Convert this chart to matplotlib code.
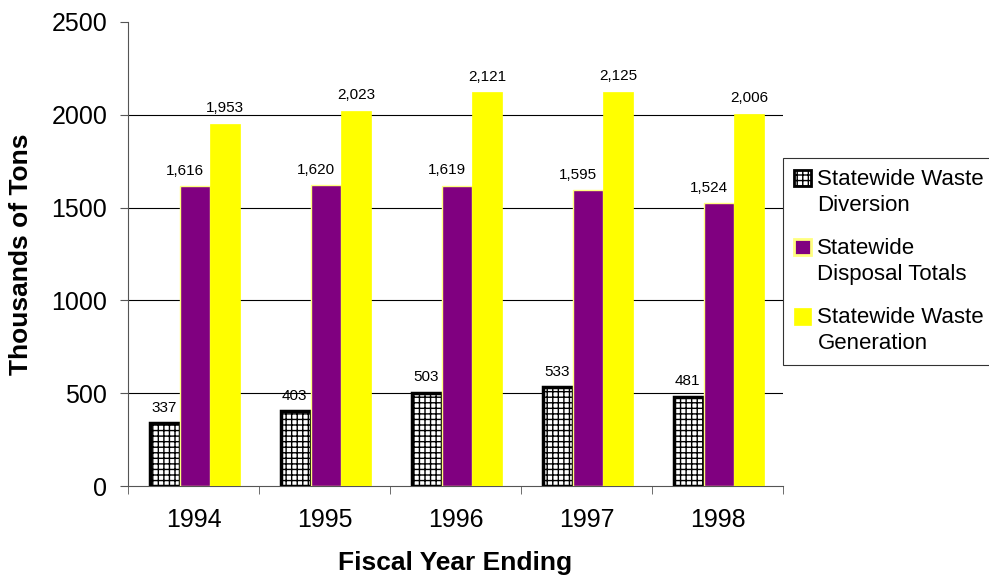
import matplotlib
matplotlib.use("Agg")
import matplotlib.pyplot as plt
from matplotlib.patches import Rectangle
from matplotlib.legend_handler import HandlerPatch
import numpy as np

plt.rcParams['font.family'] = ['Liberation Sans', 'DejaVu Sans']
plt.rcParams['hatch.linewidth'] = 1.0

years = ['1994', '1995', '1996', '1997', '1998']
diversion = [337, 403, 503, 533, 481]
disposal = [1616, 1620, 1619, 1595, 1524]
generation = [1953, 2023, 2121, 2125, 2006]
series_names = ['Statewide Waste\nDiversion', 'Statewide\nDisposal Totals', 'Statewide Waste\nGeneration']

fig = plt.figure(figsize=(9.89, 5.75), dpi=100)
ax = fig.add_axes([128/989, 1-486/575, (783-128)/989, (486-22)/575])

x = np.arange(len(years)) + 0.012
w = 0.229
b1 = ax.bar(x - w, diversion, w, color='white', edgecolor='black', hatch='+++', linewidth=2.5, zorder=3)
b2 = ax.bar(x, disposal, w, color='#800080', edgecolor='#FFFF80', linewidth=1.0, zorder=3)
b3 = ax.bar(x + w, generation, w, color='#FFFF00', edgecolor='#FFFF00', linewidth=0.5, zorder=3)

offsets = (-0.01, -0.08, 0.0)
for bars, vals, dx in ((b1, diversion, offsets[0]), (b2, disposal, offsets[1]), (b3, generation, offsets[2])):
    for r, v in zip(bars, vals):
        ax.text(r.get_x() + r.get_width()/2 + dx, v + 45, f"{v:,}", ha='center', va='bottom', fontsize=11)

ax.set_xlim(-0.5, len(years) - 0.5)
ax.set_ylim(0, 2500)
ax.set_yticks([0, 500, 1000, 1500, 2000, 2500])
ax.set_xticks(np.arange(len(years)))
ax.set_xticklabels(years, fontsize=18)
ax.set_xticks(np.arange(-0.5, len(years)), minor=True)
ax.tick_params(axis='x', which='major', length=0, pad=16)
ax.tick_params(axis='x', which='minor', length=6, direction='out', color='#555555')
ax.tick_params(axis='y', labelsize=18, length=6, direction='out', color='#555555', pad=9)
for yv in [500, 1000, 1500, 2000]:
    ax.axhline(yv, color='black', linewidth=0.8, zorder=1)
for s in ['top', 'right']:
    ax.spines[s].set_visible(False)
ax.spines['left'].set_color('#555555')
ax.spines['bottom'].set_color('#555555')

ax.set_xlabel('Fiscal Year Ending', fontsize=19, fontweight='bold')
ax.set_ylabel('Thousands of Tons', fontsize=19, fontweight='bold')
ax.xaxis.set_label_coords(0.5, -0.14)
ax.yaxis.set_label_coords(-0.145, 0.5)


def shifted_rect(legend, orig_handle, xdescent, ydescent, width, height, fontsize):
    return Rectangle((-xdescent, -ydescent + 0.65 * fontsize), width, height)


handles = [b1.patches[0], b2.patches[0], b3.patches[0]]
hmap = {h: HandlerPatch(patch_func=shifted_rect) for h in handles}
leg = fig.legend(handles, series_names, loc='upper left',
                 bbox_to_anchor=(783/989, 1-158/575), fontsize=16,
                 frameon=True, fancybox=False, edgecolor='black',
                 handlelength=0.75, handleheight=0.75, handletextpad=0.3,
                 labelspacing=1.0, borderpad=0.5, borderaxespad=0,
                 handler_map=hmap)
for t in leg.get_texts():
    t.set_linespacing(1.3)
leg.get_frame().set_linewidth(0.8)
hs = leg.legend_handles
hs[0].set_linewidth(2.0)
hs[1].set_linewidth(2.0)

fig.savefig('out.png', dpi=100)
